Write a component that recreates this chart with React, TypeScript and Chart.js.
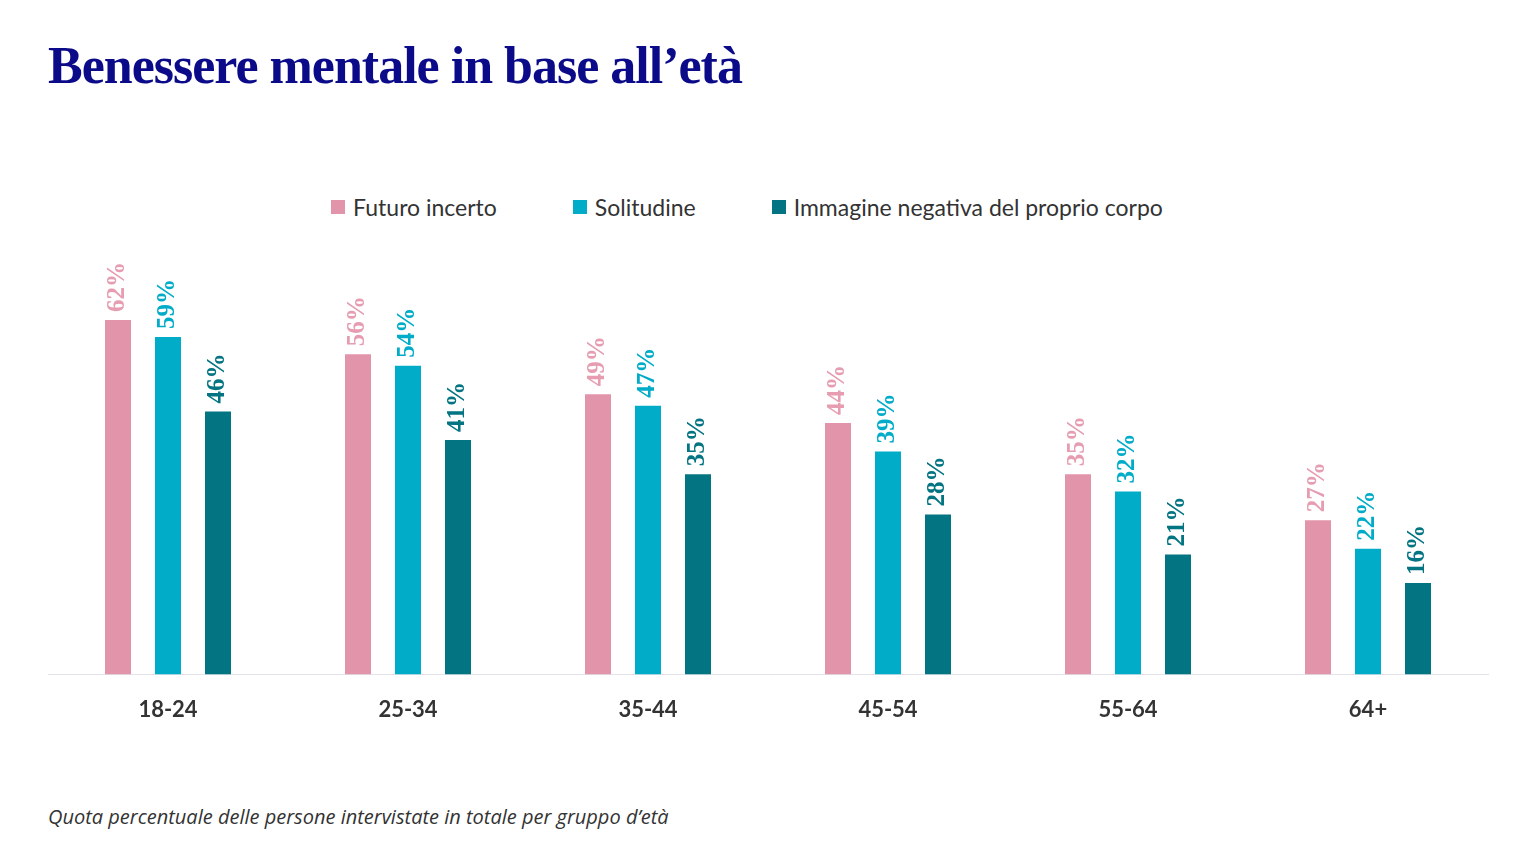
import React, { useEffect, useRef } from "react";
import { Chart, registerables } from "chart.js";
Chart.register(...registerables);

const categories = ["18-24", "25-34", "35-44", "45-54", "55-64", "64+"];
const futuro = [62, 56, 49, 44, 35, 27];
const solitudine = [59, 54, 47, 39, 32, 22];
const immagine = [46, 41, 35, 28, 21, 16];
const seriesNames = ["Futuro incerto", "Solitudine", "Immagine negativa del proprio corpo"];
const colors = ["#e295aa", "#00acc8", "#037481"];
const labelColors = ["#e69db1", "#00acc8", "#037481"];

const labelPlugin = {
  id: "vlabels",
  afterDatasetsDraw(chart: any) {
    const ctx = chart.ctx;
    chart.data.datasets.forEach((ds: any, i: number) => {
      const meta = chart.getDatasetMeta(i);
      meta.data.forEach((bar: any, j: number) => {
        ctx.save();
        ctx.translate(bar.x, bar.y - 8);
        ctx.rotate(-Math.PI / 2);
        ctx.fillStyle = labelColors[i];
        ctx.font = "bold 25px 'Liberation Serif', 'DejaVu Serif', serif";
        ctx.textAlign = "left";
        ctx.textBaseline = "middle";
        ctx.fillText(ds.data[j] + "%", 0, 0);
        ctx.restore();
      });
    });
  },
};

export default function App() {
  const ref = useRef<HTMLCanvasElement>(null);
  useEffect(() => {
    const data = [futuro, solitudine, immagine];
    const chart = new Chart(ref.current!, {
      type: "bar",
      data: {
        labels: categories,
        datasets: data.map((d, i) => ({
          label: seriesNames[i],
          data: d,
          backgroundColor: colors[i],
          categoryPercentage: 0.625,
          barPercentage: 0.52,
        })),
      },
      options: {
        animation: false,
        responsive: false,
        layout: { padding: { left: 48, right: 48, top: 24, bottom: 0 } },
        plugins: { legend: { display: false }, tooltip: { enabled: false } },
        scales: {
          y: { display: false, min: 0, max: 68.8 },
          x: {
            grid: { display: false },
            border: { color: "#e2e2e8" },
            ticks: {
              color: "#333",
              padding: 14,
              font: { family: "Lato, 'Open Sans', sans-serif", size: 22, weight: "bold" },
            },
          },
        },
      },
      plugins: [labelPlugin],
    });
    return () => chart.destroy();
  }, []);

  const sans = "Lato, 'Open Sans', sans-serif";
  return (
    <div style={{ position: "fixed", left: 0, top: 0, width: 1536, height: 864, background: "#fff", fontFamily: sans }}>
      <div style={{ position: "absolute", left: 48, top: 36, fontFamily: "'Liberation Serif', 'DejaVu Serif', serif", fontWeight: "bold", fontSize: 52, color: "#0b0b8a", letterSpacing: -1 }}>
        Benessere mentale in base all’età
      </div>
      <div style={{ position: "absolute", left: -21, width: 1536, top: 193, display: "flex", justifyContent: "center", gap: 76, fontSize: 23, color: "#333" }}>
        {seriesNames.map((n, i) => (
          <div key={n} style={{ display: "flex", alignItems: "center", gap: 8 }}>
            <span style={{ width: 14, height: 14, background: colors[i], display: "inline-block" }} />
            <span>{n}</span>
          </div>
        ))}
      </div>
      <canvas ref={ref} width={1536} height={480} style={{ position: "absolute", left: 0, top: 257, width: 1536, height: 480 }} />
      <div style={{ position: "absolute", left: 48, top: 803, fontStyle: "italic", fontSize: 20, color: "#333", fontFamily: "'Open Sans', sans-serif" }}>
        Quota percentuale delle persone intervistate in totale per gruppo d’età
      </div>
    </div>
  );
}
